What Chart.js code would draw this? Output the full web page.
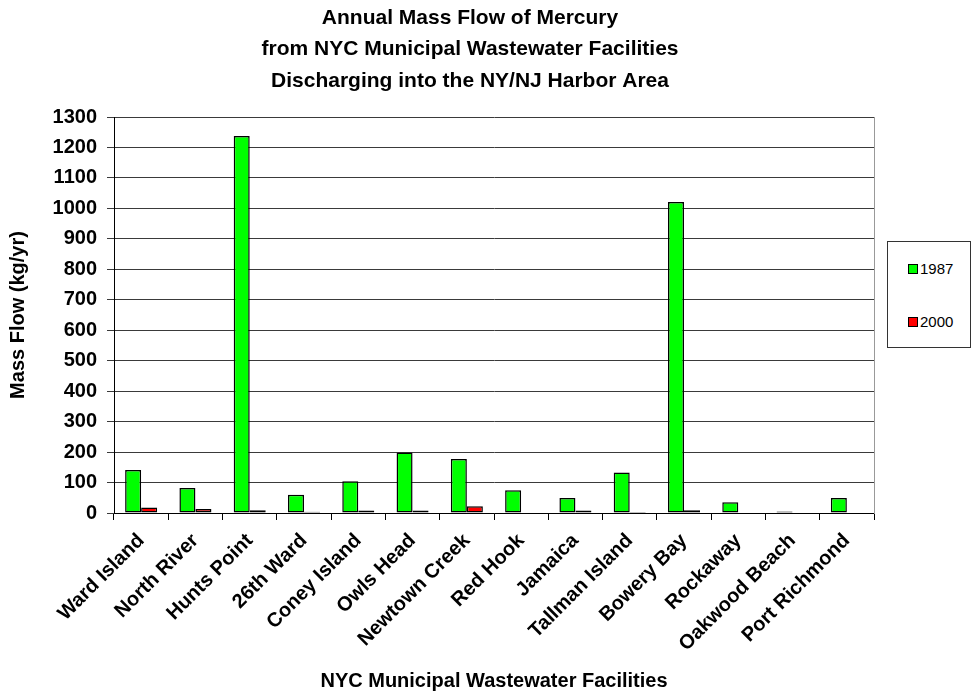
<!DOCTYPE html>
<html>
<head>
<meta charset="utf-8">
<script src="https://cdn.jsdelivr.net/npm/chart.js@4/dist/chart.umd.min.js"></script>
<style>
    html, body { margin: 0; padding: 0; background: #fff; }
    #wrap { position: relative; width: 975px; height: 696px; }
    #legend {
        position: absolute; left: 887px; top: 241px; width: 82px; height: 105px;
        border: 1px solid #333; background: #fff;
        font-family: "Liberation Sans", Arial, sans-serif; font-size: 15px; color: #000;
    }
    .item { position: absolute; left: 20px; display: flex; align-items: center; }
    .box { width: 8px; height: 8px; border: 1px solid #000; margin-right: 2px; }
</style>
</head>
<body>
<div id="wrap">
    <canvas id="chart" width="975" height="696"></canvas>
    <div id="legend"></div>
</div>
<script>
// --- Datos ---
const categories = ['Ward Island', 'North River', 'Hunts Point', '26th Ward', 'Coney Island', 'Owls Head',
    'Newtown Creek', 'Red Hook', 'Jamaica', 'Tallman Island', 'Bowery Bay', 'Rockaway', 'Oakwood Beach', 'Port Richmond'];
const flow1987 = [141, 82, 1238, 60, 104, 199, 177, 75, 49, 133, 1021, 35, 5, 49];
const flow2000 = [18, 13, 9, 4, 8, 8, 22, 2, 8, 3, 9, 0, 0, 0];
const seriesNames = ['1987', '2000'];
const seriesColors = ['#00ff00', '#ff0000'];

Chart.defaults.font.family = '"Liberation Sans", Arial, sans-serif';
Chart.defaults.color = '#000';

const ctx = document.getElementById('chart').getContext('2d');

new Chart(ctx, {
    type: 'bar',
    data: {
        labels: categories,
        datasets: [flow1987, flow2000].map((values, i) => ({
            label: seriesNames[i],
            data: values,
            backgroundColor: seriesColors[i],
            borderColor: '#000',
            borderWidth: 1.5,
            borderSkipped: false,
            categoryPercentage: 0.59,
            barPercentage: 1.0
        }))
    },
    options: {
        responsive: false,
        animation: false,
        layout: { padding: { top: 0, left: 0, bottom: 0, right: 35 } },
        plugins: {
            legend: { display: false },
            tooltip: { enabled: false },
            title: {
                display: true,
                text: ['Annual Mass Flow of Mercury',
                       'from NYC Municipal Wastewater Facilities',
                       'Discharging into the NY/NJ Harbor Area'],
                font: { size: 21, weight: 'bold', lineHeight: 1.5 },
                padding: { top: 2, bottom: 20.5 }
            }
        },
        scales: {
            x: {
                grid: { offset: true, drawOnChartArea: false, tickLength: 7, color: '#000' },
                border: { color: '#000', width: 1 },
                ticks: {
                    autoSkip: false, minRotation: 45, maxRotation: 45, padding: 9,
                    font: { size: 20, weight: 'bold' }
                },
                title: {
                    display: true, text: 'NYC Municipal Wastewater Facilities',
                    font: { size: 20, weight: 'bold' }, padding: { top: 0, bottom: 3 }
                },
                afterFit: scale => { scale.height = 183; }
            },
            y: {
                min: 0, max: 1300,
                grid: { color: '#3a3a3a', tickLength: 7 },
                border: { color: '#000', width: 1 },
                ticks: {
                    stepSize: 100, padding: 10, font: { size: 20, weight: 'bold' },
                    callback: value => String(value)
                },
                title: {
                    display: true, text: 'Mass Flow (kg/yr)',
                    font: { size: 20, weight: 'bold' }, padding: { top: 6, bottom: 0 }
                },
                afterFit: scale => { scale.width = 114; }
            },
            yRight: {
                type: 'linear', position: 'right', display: true,
                grid: { drawOnChartArea: false, drawTicks: false },
                border: { color: '#999', width: 1 },
                ticks: { display: false },
                afterFit: scale => { scale.width = 66; }
            }
        }
    }
});

// --- Leyenda manual ---
document.getElementById('legend').innerHTML = seriesNames.map((name, i) => `
    <div class="item" style="top:${18 + i * 53}px">
        <div class="box" style="background:${seriesColors[i]}"></div><span>${name}</span>
    </div>
`).join('');
</script>
</body>
</html>
